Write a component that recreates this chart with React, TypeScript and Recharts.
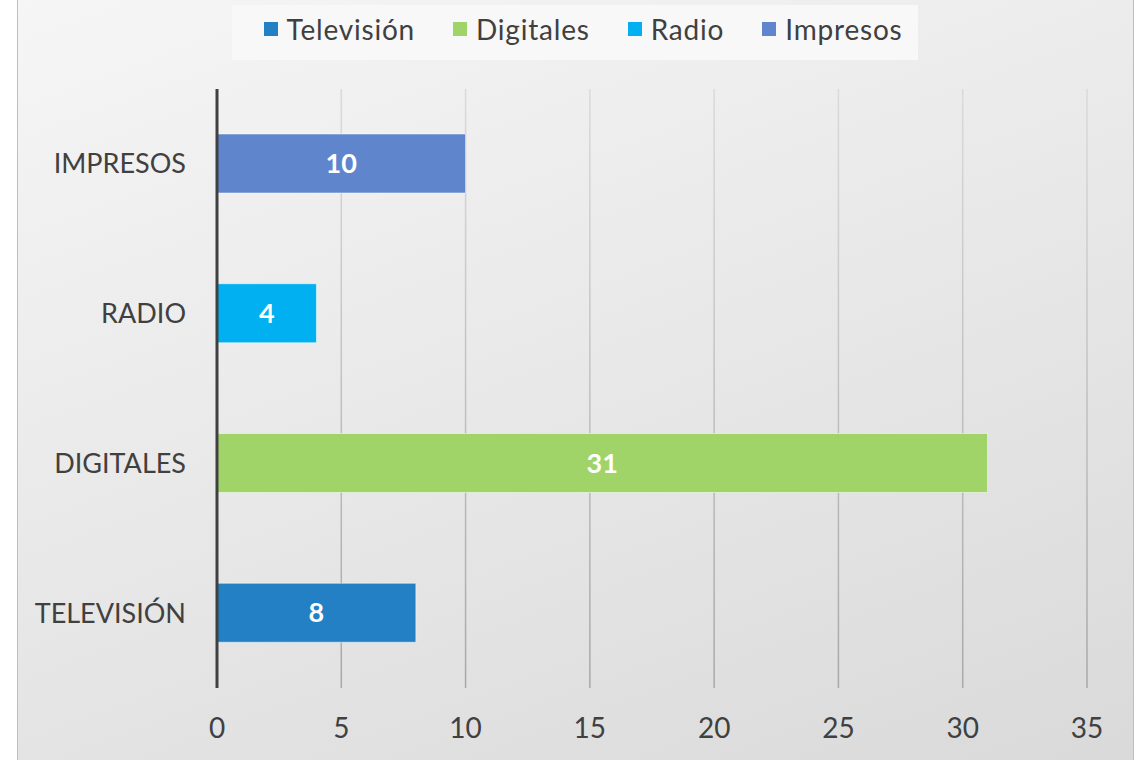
import React from 'react'
import { BarChart, Bar, XAxis, YAxis, CartesianGrid, Legend, LabelList } from 'recharts'

const categories = ['IMPRESOS', 'RADIO', 'DIGITALES', 'TELEVISIÓN']
const values = [10, 4, 31, 8]
const categorySeries = ['Impresos', 'Radio', 'Digitales', 'Televisión']
const seriesNames = ['Televisión', 'Digitales', 'Radio', 'Impresos']
const seriesColors = ['#2380c5', '#a0d468', '#00b0f0', '#5f86cc']
const xTicks = [0, 5, 10, 15, 20, 25, 30, 35]

const FONT = 'Lato, "Noto Sans", sans-serif'
const TEXT = '#404040'

const data = categories.map((name, i) => ({ name, [categorySeries[i]]: values[i] }))

function LegendBox({ payload }: any) {
  const items = [...(payload || [])].sort(
    (a: any, b: any) => seriesNames.indexOf(a.value) - seriesNames.indexOf(b.value)
  )
  return (
    <div
      style={{
        display: 'flex',
        justifyContent: 'center',
        alignItems: 'center',
        gap: 38,
        height: 55,
        boxSizing: 'border-box',
        paddingLeft: 16,
        paddingBottom: 7,
        background: '#f8f8f8',
        fontFamily: FONT,
        fontSize: 28,
        letterSpacing: 0.8,
        color: TEXT,
      }}
    >
      {items.map((p: any) => (
        <div key={p.value} style={{ display: 'flex', alignItems: 'center', gap: 9 }}>
          <span style={{ width: 14, height: 14, background: p.color, display: 'inline-block' }} />
          <span>{p.value}</span>
        </div>
      ))}
    </div>
  )
}

export default function App() {
  return (
    <div style={{ position: 'absolute', left: 0, top: 0, width: 1141, height: 760, overflow: 'hidden' }}>
      <svg width={0} height={0} style={{ position: 'absolute' }}>
        <defs>
          <linearGradient id="gridGrad" gradientUnits="userSpaceOnUse" x1={0} y1={89} x2={0} y2={688}>
            <stop offset="0%" stopColor="#dadada" />
            <stop offset="100%" stopColor="#a8a8a8" />
          </linearGradient>
        </defs>
      </svg>
      <div
        style={{
          position: 'absolute',
          left: 17,
          top: -20,
          width: 1115,
          height: 800,
          border: '1px solid #bdbdbd',
          background: 'linear-gradient(160deg, #f6f6f6 0%, #e8e8e8 50%, #d9d9d9 100%)',
        }}
      />
      <div style={{ position: 'absolute', left: 0, top: 0 }}>
        <BarChart
          width={1141}
          height={760}
          data={data}
          layout="vertical"
          margin={{ top: 34, right: 54, bottom: 0, left: 0 }}
        >
          <CartesianGrid horizontal={false} stroke="url(#gridGrad)" strokeWidth={1.5} />
          <XAxis
            type="number"
            domain={[0, 35]}
            ticks={xTicks}
            axisLine={false}
            tickLine={false}
            tickSize={0}
            tickMargin={30}
            height={72}
            tick={{ fill: TEXT, fontSize: 28, fontFamily: FONT }}
          />
          <YAxis
            type="category"
            dataKey="name"
            width={217}
            axisLine={{ stroke: '#404040', strokeWidth: 3 }}
            tickLine={false}
            tickSize={0}
            tickMargin={31}
            tick={{ fill: TEXT, fontSize: 27, fontFamily: FONT }}
          />
          <Legend
            verticalAlign="top"
            content={<LegendBox />}
            wrapperStyle={{ top: 5, left: 232, width: 686, height: 55 }}
          />
          {seriesNames.map((s, i) => (
            <Bar
              key={s}
              dataKey={s}
              name={s}
              stackId="a"
              fill={seriesColors[i]}
              stroke="#ffffff"
              strokeOpacity={0.5}
              barSize={59}
              isAnimationActive={false}
            >
              <LabelList
                dataKey={s}
                position="center"
                formatter={(v: any) => (v ? v : '')}
                fill="#ffffff"
                style={{ fontSize: 27, fontWeight: 700, fontFamily: FONT }}
              />
            </Bar>
          ))}
        </BarChart>
      </div>
    </div>
  )
}
